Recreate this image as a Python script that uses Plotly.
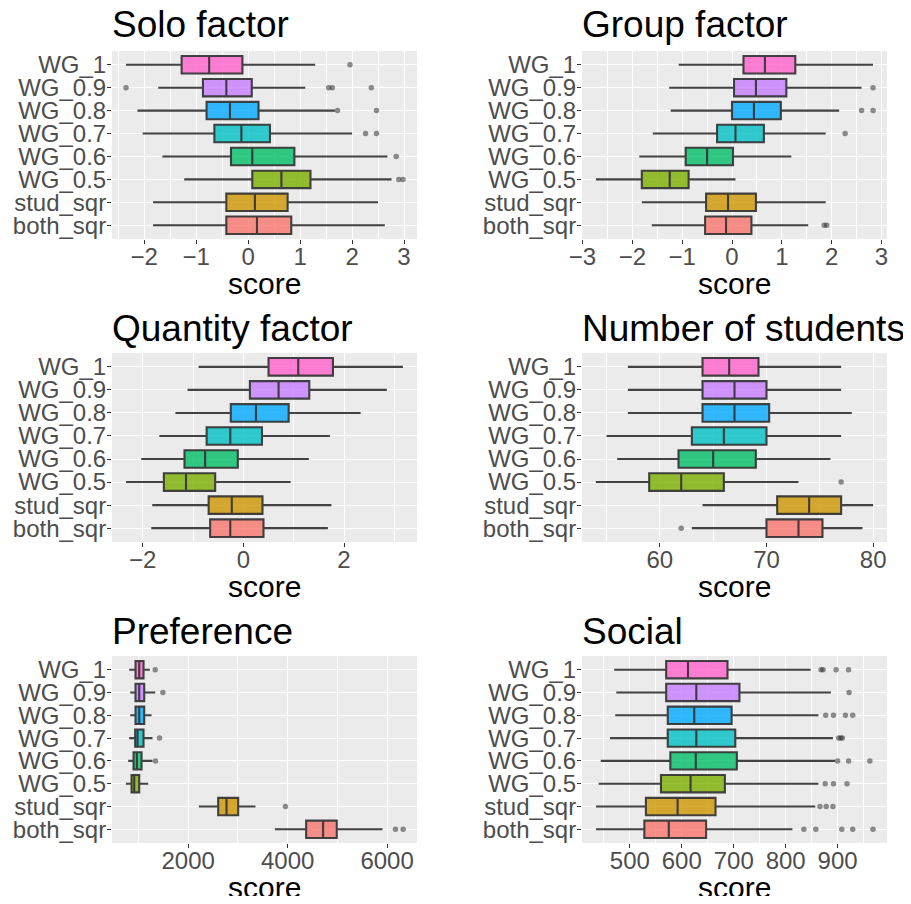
import plotly.graph_objects as go

# ---------------- data ----------------
categories = ["WG_1", "WG_0.9", "WG_0.8", "WG_0.7", "WG_0.6", "WG_0.5", "stud_sqr", "both_sqr"]
colors = ["#FF61CC", "#C77CFF", "#00A9FF", "#00BFC4", "#00BE67", "#7CAE00", "#CD9600", "#F8766D"]

titles = ["Solo factor", "Group factor", "Quantity factor", "Number of students", "Preference", "Social"]

solo_low = [-2.35, -1.73, -2.13, -2.03, -1.65, -1.23, -1.83, -1.83]
solo_q1 = [-1.28, -0.87, -0.80, -0.65, -0.33, 0.08, -0.42, -0.42]
solo_med = [-0.75, -0.42, -0.35, -0.13, 0.08, 0.64, 0.13, 0.17]
solo_q3 = [-0.11, 0.07, 0.20, 0.42, 0.89, 1.20, 0.76, 0.83]
solo_up = [1.29, 1.10, 1.67, 2.00, 2.68, 2.76, 2.50, 2.63]
solo_out = [[1.96], [-2.35, 1.55, 1.62, 2.37], [1.72, 2.47], [2.26, 2.47], [2.85], [2.90, 2.98], [], []]

group_low = [-1.07, -1.26, -1.23, -1.59, -1.86, -2.73, -1.81, -1.61]
group_q1 = [0.23, 0.04, 0.00, -0.30, -0.93, -1.81, -0.52, -0.54]
group_med = [0.66, 0.48, 0.44, 0.07, -0.50, -1.25, -0.08, -0.12]
group_q3 = [1.27, 1.09, 0.98, 0.64, 0.02, -0.87, 0.48, 0.39]
group_up = [2.83, 2.60, 2.15, 1.88, 1.19, 0.07, 1.88, 1.53]
group_out = [[], [2.83], [2.60, 2.83], [2.27], [], [], [], [1.85, 1.90]]

quant_low = [-0.89, -1.11, -1.35, -1.67, -2.03, -2.33, -1.81, -1.83]
quant_q1 = [0.50, 0.13, -0.25, -0.73, -1.17, -1.58, -0.69, -0.66]
quant_med = [1.09, 0.70, 0.25, -0.26, -0.76, -1.14, -0.23, -0.26]
quant_q3 = [1.78, 1.31, 0.90, 0.37, -0.11, -0.56, 0.38, 0.40]
quant_up = [3.17, 2.85, 2.33, 1.72, 1.30, 0.94, 1.75, 1.68]
quant_out = [[], [], [], [], [], [], [], []]

stud_low = [57, 57, 57, 55, 56, 54, 64, 63]
stud_q1 = [64, 64, 64, 63, 61.75, 59, 71, 70]
stud_med = [66.5, 67, 67, 66, 65, 62, 74, 73]
stud_q3 = [69.25, 70, 70.25, 70, 69, 66, 77, 75.25]
stud_up = [77, 77, 78, 77, 76, 73, 80, 79]
stud_out = [[], [], [], [], [], [77], [], [62]]

pref_low = [814, 834, 834, 814, 794, 747, 2215, 3742]
pref_q1 = [941, 941, 941, 934, 901, 861, 2603, 4372]
pref_med = [1015, 1015, 1015, 982, 968, 915, 2771, 4713]
pref_q3 = [1102, 1116, 1116, 1102, 1062, 1015, 3005, 4988]
pref_up = [1230, 1337, 1263, 1283, 1283, 1196, 3353, 5906]
pref_out = [[1337], [1491], [], [1424], [1343], [], [3956], [6168, 6322]]

soc_low = [470, 474, 472, 462, 444, 440, 435, 435]
soc_q1 = [570, 570, 573, 573, 578, 560, 531, 528]
soc_med = [612, 628, 624, 628, 627, 617, 592, 575]
soc_q3 = [688, 711, 696, 703, 706, 683, 665, 647]
soc_up = [848, 887, 863, 891, 895, 863, 857, 813]
soc_out = [[868, 872, 897, 921], [922], [877, 892, 915, 929], [902, 906, 909],
           [900, 921, 962], [876, 892, 918], [866, 878, 891], [835, 858, 908, 929, 968]]

panel_stats = [
    (solo_low, solo_q1, solo_med, solo_q3, solo_up, solo_out),
    (group_low, group_q1, group_med, group_q3, group_up, group_out),
    (quant_low, quant_q1, quant_med, quant_q3, quant_up, quant_out),
    (stud_low, stud_q1, stud_med, stud_q3, stud_up, stud_out),
    (pref_low, pref_q1, pref_med, pref_q3, pref_up, pref_out),
    (soc_low, soc_q1, soc_med, soc_q3, soc_up, soc_out),
]

# axis settings: range, major tick step, tick0, minor step
x_ranges = [[-2.62, 3.25], [-3.01, 3.11], [-2.61, 3.45], [52.7, 81.3], [468, 6601], [408, 995]]
x_dtick = [1, 1, 2, 10, 2000, 100]
x_tick0 = [0, 0, 0, 0, 0, 0]
x_minor = [0.5, 0.5, 1, 5, 1000, 50]

# ---------------- layout geometry (window pixels) ----------------
OFF = 8                      # default page body margin
W, H = 911 - 2 * OFF, 904 - 2 * OFF
col_x = [(112, 417), (582, 887)]
row_y = [(51, 239), (353, 542), (656, 843)]
title_y = [25, 328, 631]
score_y = [283, 586, 887]

FONT = "Liberation Sans, Arial, Helvetica, sans-serif"


def px_x(v):
    return (v - OFF) / W


def px_y(v):
    return 1 - (v - OFF) / H


def hex_rgba(h, a):
    h = h.lstrip("#")
    return "rgba(%d,%d,%d,%.2f)" % (int(h[0:2], 16), int(h[2:4], 16), int(h[4:6], 16), a)


fig = go.Figure()
layout = dict(
    width=W, height=H,
    margin=dict(l=0, r=0, t=0, b=0, autoexpand=False),
    paper_bgcolor="white",
    plot_bgcolor="#EBEBEB",
    showlegend=False,
    boxmode="overlay",
    font=dict(family=FONT),
)
annotations = []

for i in range(6):
    r, c = divmod(i, 2)
    x0, x1 = col_x[c]
    y0, y1 = row_y[r]
    xa = "x" if i == 0 else "x%d" % (i + 1)
    ya = "y" if i == 0 else "y%d" % (i + 1)
    xkey = "xaxis" if i == 0 else "xaxis%d" % (i + 1)
    ykey = "yaxis" if i == 0 else "yaxis%d" % (i + 1)
    low, q1, med, q3, up, outs = panel_stats[i]

    for k, cat in enumerate(categories):
        fig.add_trace(go.Box(
            y=[cat], q1=[q1[k]], median=[med[k]], q3=[q3[k]],
            lowerfence=[low[k]], upperfence=[up[k]],
            orientation="h", width=0.76, whiskerwidth=0,
            fillcolor=hex_rgba(colors[k], 0.8),
            line=dict(color="rgba(51,51,51,0.92)", width=2.1),
            boxpoints=False, hoverinfo="skip",
            xaxis=xa, yaxis=ya,
        ))
        if outs[k]:
            fig.add_trace(go.Scatter(
                x=outs[k], y=[cat] * len(outs[k]), mode="markers",
                marker=dict(color="rgba(51,51,51,0.55)", size=5.5, line=dict(width=0)),
                hoverinfo="skip", xaxis=xa, yaxis=ya,
            ))

    layout[xkey] = dict(
        domain=[px_x(x0), px_x(x1)], anchor=ya, range=x_ranges[i],
        tick0=x_tick0[i], dtick=x_dtick[i],
        showgrid=True, gridcolor="white", gridwidth=1.4,
        minor=dict(dtick=x_minor[i], showgrid=True, gridcolor="white", gridwidth=0.7),
        zeroline=False, showline=False, automargin=False,
        ticks="outside", ticklen=4, tickwidth=1.2, tickcolor="#333333",
        ticklabelposition="outside", ticklabelstandoff=-8,
        tickfont=dict(size=24, color="#4D4D4D", family=FONT),
        fixedrange=True,
    )
    layout[ykey] = dict(
        domain=[px_y(y1), px_y(y0)], anchor=xa,
        type="category", categoryorder="array", categoryarray=categories[::-1],
        tickmode="array", tickvals=categories, ticktext=categories,
        range=[-0.6, 7.6],
        showgrid=True, gridcolor="white", gridwidth=1.4,
        zeroline=False, showline=False, automargin=False,
        ticks="outside", ticklen=4, tickwidth=1.2, tickcolor="#333333",
        ticklabelposition="outside", ticklabelstandoff=-4,
        tickfont=dict(size=24, color="#4D4D4D", family=FONT),
        fixedrange=True,
    )

    annotations.append(dict(
        text=titles[i], xref="paper", yref="paper",
        x=px_x(x0 - 2), y=px_y(title_y[r]), xanchor="left", yanchor="middle",
        showarrow=False, font=dict(size=37, color="black", family=FONT),
    ))
    annotations.append(dict(
        text="score", xref="paper", yref="paper",
        x=px_x((x0 + x1) / 2), y=px_y(score_y[r]), xanchor="center", yanchor="middle",
        showarrow=False, font=dict(size=30, color="black", family=FONT),
    ))

layout["annotations"] = annotations
fig.update_layout(**layout)
fig.write_html("out.html")
